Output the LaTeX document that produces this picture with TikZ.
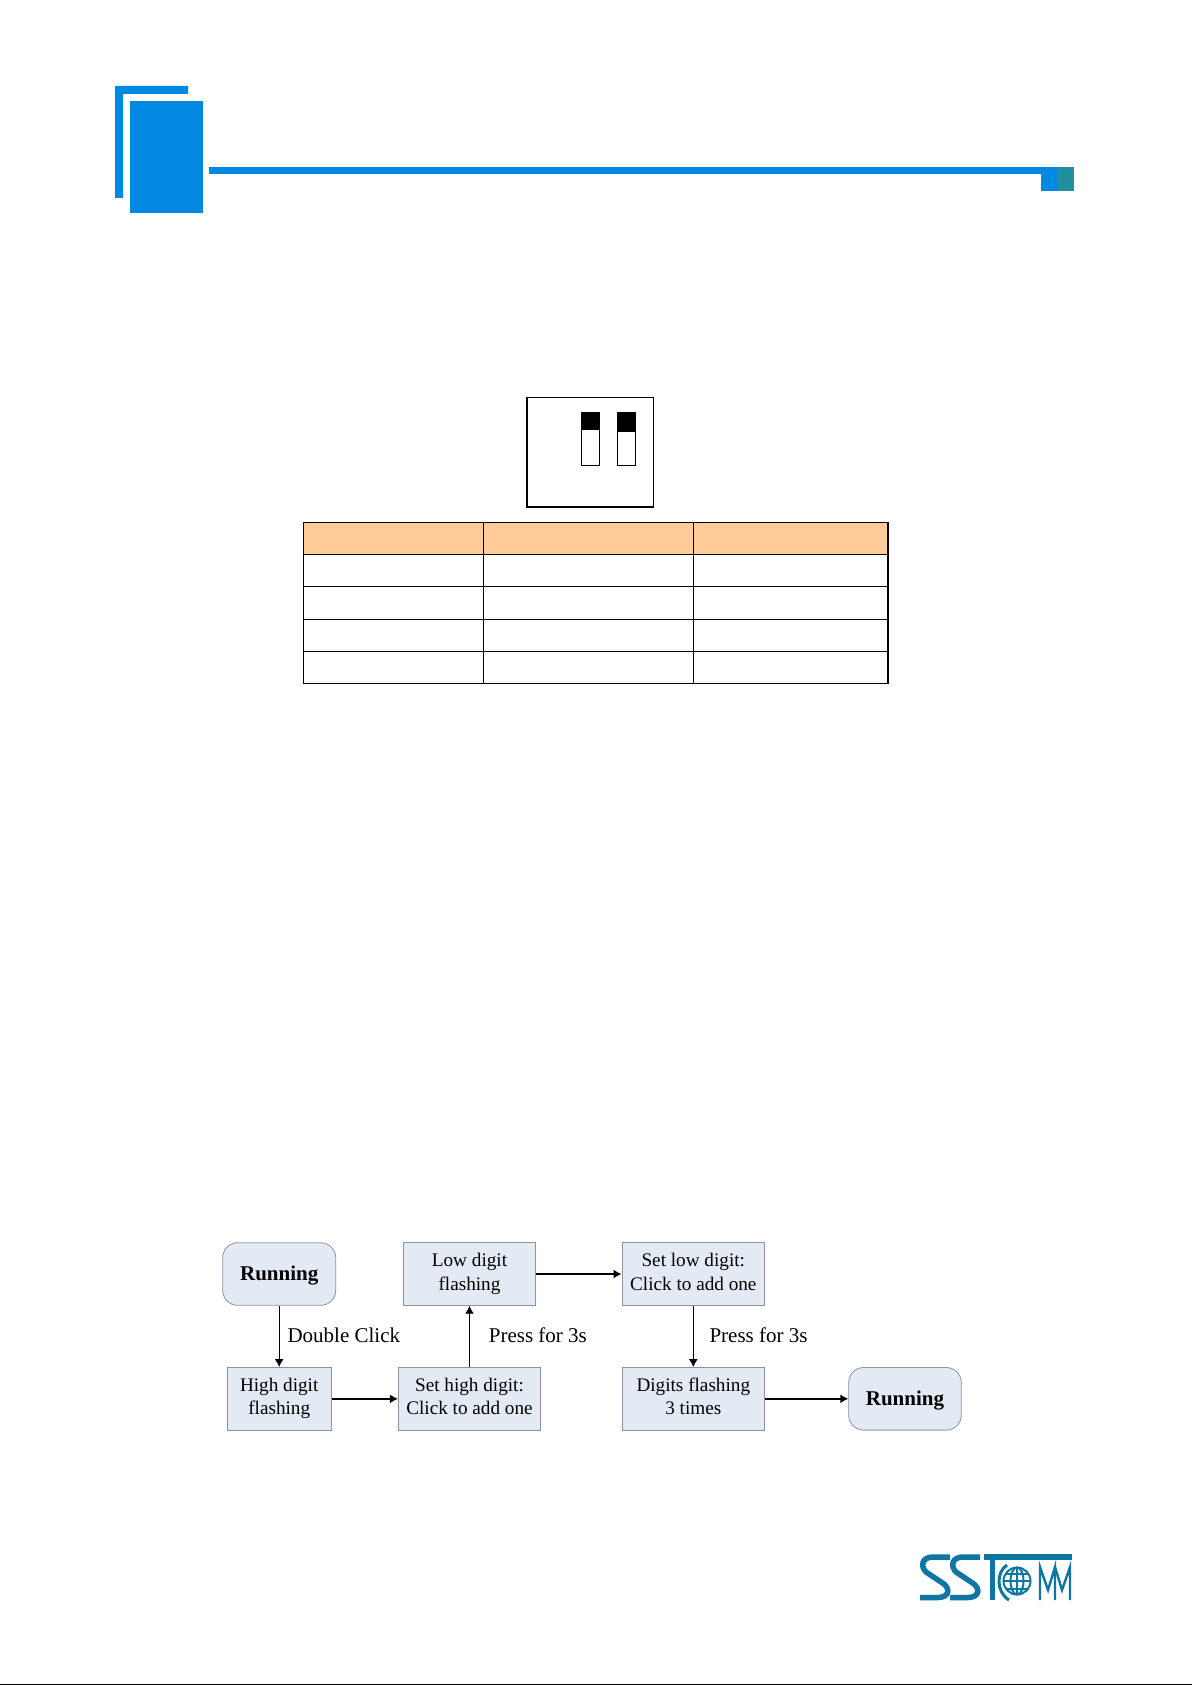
\documentclass[tikz,border=0pt]{standalone}
\usepackage{fontspec}
\usetikzlibrary{arrows.meta}
\setmainfont{Liberation Serif}
\definecolor{headblue}{HTML}{0088E2}
\definecolor{headteal}{HTML}{20909C}
\definecolor{tablehead}{HTML}{FFCC99}
\definecolor{boxfill}{HTML}{E4EAF4}
\definecolor{boxline}{HTML}{8C939B}
\definecolor{logoblue}{HTML}{0F76A4}
\begin{document}
\begin{tikzpicture}[x=1pt, y=-1pt]
    \tikzstyle{base_style} = [draw=boxline, line width=0.8, fill=boxfill, inner sep=0, align=center, minimum height=62.6, execute at end node={\rule[-5.1pt]{0pt}{0pt}}]
    \tikzstyle{box_style} = [base_style, execute at begin node={\rule{0pt}{22pt}}, font=\fontsize{19.2}{23.8}\selectfont]
    \tikzstyle{run_style} = [base_style, execute at begin node={\rule{0pt}{18pt}}, rounded corners=15, font=\fontsize{21}{25}\selectfont\bfseries]
    \tikzstyle{label_style} = [anchor=west, inner sep=0, font=\fontsize{21}{25}\selectfont]
    \tikzstyle{arrow_style1} = [-{Latex[length=8,width=9]}, black, line width=1.4]
    \tikzstyle{table_line} = [black, line width=1.2]
    \tikzstyle{logo_line} = [logoblue, line width=5.5]
    \tikzstyle{logo_thin} = [logoblue, line width=2]

    \useasboundingbox (0,0) rectangle (1192,1685);

    % page header
    \fill[headblue] (115,86) -- (188,86) -- (188,94) -- (123,94) -- (123,198) -- (115,198) -- cycle;
    \fill[headblue] (130,101) rectangle (203,213);
    \fill[headblue] (209,167) rectangle (1057,174);
    \fill[headblue] (1041,167) rectangle (1057,191);
    \fill[headteal] (1057,167) rectangle (1074,191);

    % switch
    \draw[table_line] (527,397.7) rectangle (653.7,507);
    \draw[table_line] (581.7,413) rectangle (599.3,465.3);
    \fill[black] (581,413) rectangle (600,430);
    \draw[table_line] (617.7,413) rectangle (635.6,465.3);
    \fill[black] (617,413) rectangle (636.3,432.3);

    % table
    \fill[tablehead] (303.3,522.3) rectangle (888,554.3);
    \draw[table_line] (303.3,522.3) rectangle (888,683.3);
    \draw[table_line] (483.3,522.3) -- (483.3,683.3);
    \draw[table_line] (693.6,522.3) -- (693.6,683.3);
    \draw[table_line] (303.3,554.3) -- (888,554.3);
    \draw[table_line] (303.3,586.3) -- (888,586.3);
    \draw[table_line] (303.3,619.3) -- (888,619.3);
    \draw[table_line] (303.3,651.3) -- (888,651.3);

    % flow
    \node[run_style, minimum width=113] (n1) at (279.2,1274) {Running};
    \node[box_style, minimum width=104] (n2) at (279.2,1398.8) {High digit\\flashing};
    \node[box_style, minimum width=142.4] (n3) at (469.5,1398.8) {Set high digit:\\Click to add one};
    \node[box_style, minimum width=132.4] (n4) at (469.5,1274) {Low digit\\flashing};
    \node[box_style, minimum width=142.7] (n5) at (693.3,1274) {Set low digit:\\Click to add one};
    \node[box_style, minimum width=142.7] (n6) at (693.3,1398.8) {Digits flashing\\3 times};
    \node[run_style, minimum width=112.6] (n7) at (905,1398.8) {Running};

    \node[label_style] (l1) at (287.3,1335) {Double Click};
    \node[label_style] (l2) at (488.7,1335) {Press for 3s};
    \node[label_style] (l3) at (709.3,1335) {Press for 3s};

    \draw[arrow_style1] (n1) edge (n2);
    \draw[arrow_style1] (n2) edge (n3);
    \draw[arrow_style1] (n3) edge (n4);
    \draw[arrow_style1] (n4) edge (n5);
    \draw[arrow_style1] (n5) edge (n6);
    \draw[arrow_style1] (n6) edge (n7);

    % logo
    \draw[logo_line] (950,1557) -- (933,1557) .. controls (922,1557) and (920,1566) .. (926,1572) -- (944,1584) .. controls (951,1590) and (948,1597.5) .. (938,1597.5) -- (920,1597.5);
    \draw[logo_line] (980,1557) -- (963,1557) .. controls (952,1557) and (950,1566) .. (956,1572) -- (974,1584) .. controls (981,1590) and (978,1597.5) .. (968,1597.5) -- (950,1597.5);
    \draw[logo_line] (984,1557) -- (1072,1557);
    \draw[logo_line] (992.5,1557) -- (992.5,1600);
    \draw[logo_thin] (1017,1581) circle (13.5);
    \draw[logo_thin] (1017,1581) ellipse (6.5 and 13.5);
    \draw[logo_thin] (1017,1567.5) -- (1017,1594.5);
    \draw[logo_thin] (1003.5,1581) -- (1030.5,1581);
    \draw[logo_thin] (1005.5,1573.5) -- (1028.5,1573.5);
    \draw[logo_thin] (1005.5,1588.5) -- (1028.5,1588.5);
    \draw[logo_line, line width=3] (1007,1565) .. controls (996,1572) and (996,1592) .. (1009,1600);
    \draw[logo_thin, line width=2.4] (1040,1600) -- (1040,1567) -- (1048,1590) -- (1055,1567) -- (1055,1600);
    \draw[logo_thin, line width=2.4] (1055,1567) -- (1062,1590) -- (1070,1567) -- (1070,1600);

    % page edge
    \fill[black] (0,1683.5) rectangle (1192,1685);
\end{tikzpicture}
\end{document}
